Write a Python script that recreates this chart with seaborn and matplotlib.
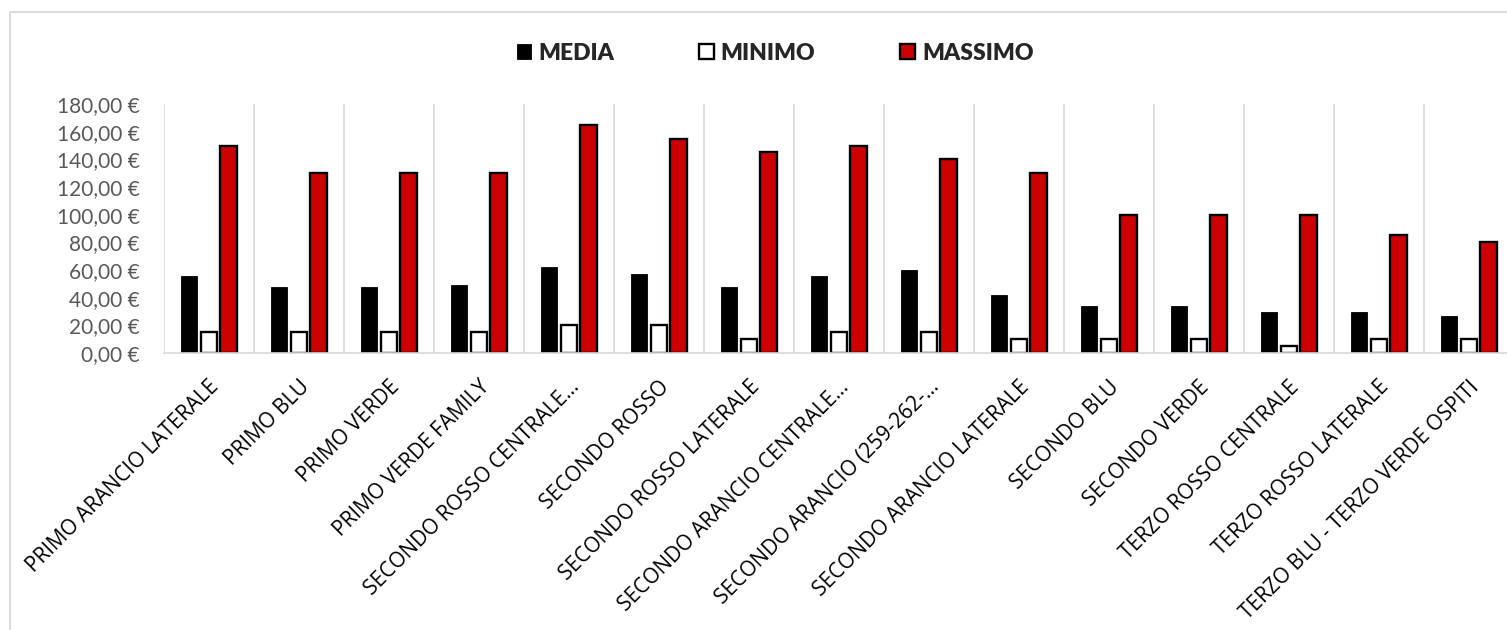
import matplotlib
matplotlib.use("Agg")
import matplotlib.pyplot as plt
from matplotlib.patches import Rectangle, Patch
from matplotlib.font_manager import FontProperties
from matplotlib.ticker import FuncFormatter, MultipleLocator
import seaborn as sns
import pandas as pd

# Sectors and ticket prices (EUR)
categories = [
    "PRIMO ARANCIO LATERALE",
    "PRIMO BLU",
    "PRIMO VERDE",
    "PRIMO VERDE FAMILY",
    "SECONDO ROSSO CENTRALE…",
    "SECONDO ROSSO",
    "SECONDO ROSSO LATERALE",
    "SECONDO ARANCIO CENTRALE…",
    "SECONDO ARANCIO (259-262-…",
    "SECONDO ARANCIO LATERALE",
    "SECONDO BLU",
    "SECONDO VERDE",
    "TERZO ROSSO CENTRALE",
    "TERZO ROSSO LATERALE",
    "TERZO BLU - TERZO VERDE OSPITI",
]
media = [56, 48, 48, 49, 62, 57, 48, 56, 60, 42, 34, 34, 30, 30, 27]
minimo = [15, 15, 15, 15, 20, 20, 10, 15, 15, 10, 10, 10, 5, 10, 10]
massimo = [150, 130, 130, 130, 165, 155, 145, 150, 140, 130, 100, 100, 100, 85, 80]

series_names = ["MEDIA", "MINIMO", "MASSIMO"]
fill_colors = ["#000000", "#FFFFFF", "#CC0000"]

df = pd.DataFrame({"settore": categories, "MEDIA": media, "MINIMO": minimo, "MASSIMO": massimo})
long_df = df.melt(id_vars="settore", value_vars=series_names, var_name="serie", value_name="prezzo")

sns.set_theme(style="white")

fig = plt.figure(figsize=(15.07, 6.30), dpi=100)
ax = fig.add_axes([163.7 / 1507, 1 - 353 / 630, 1350 / 1507, (353 - 104) / 630])

sns.barplot(
    data=long_df, x="settore", y="prezzo", hue="serie",
    order=categories, hue_order=series_names,
    palette=fill_colors, width=0.66, gap=0.19,
    saturation=1, legend=False, ax=ax,
)

# Outline styling per series
for cont, name in zip(ax.containers, series_names):
    for bar in cont:
        bar.set_edgecolor("#000000")
        bar.set_linewidth(0.6 if name == "MEDIA" else 1.7)

ax.set_xlim(-0.5, len(categories) - 0.5)
ax.set_ylim(0, 180)
ax.yaxis.set_major_locator(MultipleLocator(20))
ax.yaxis.set_major_formatter(FuncFormatter(lambda v, _: f"{v:.2f}".replace(".", ",") + " €"))

# Vertical separators between sectors
for b in range(len(categories) + 1):
    ax.axvline(b - 0.5, color="#D9D9D9", lw=1.2, zorder=0)

for side in ["top", "right", "left"]:
    ax.spines[side].set_visible(False)
ax.spines["bottom"].set_color("#D9D9D9")
ax.spines["bottom"].set_linewidth(1.2)

ax.set_xlabel("")
ax.set_ylabel("")
ax.tick_params(axis="y", length=0, pad=17, labelsize=15, labelcolor="#595959")
ax.tick_params(axis="x", length=0, pad=17)
for lab in ax.get_yticklabels():
    lab.set_fontfamily(["Lato", "DejaVu Sans"])

x_font = FontProperties(family="Open Sans", size=15)
ax.set_xticks(range(len(categories)))
ax.set_xticklabels(categories, rotation=45, ha="right", va="top",
                   rotation_mode="anchor", color="#000000")
for lab in ax.get_xticklabels():
    lab.set_fontproperties(x_font)

handles = [Patch(facecolor=c, edgecolor="#000000", linewidth=1.7 if i else 0.6)
           for i, c in enumerate(fill_colors)]
fig.legend(handles, series_names, loc="center", bbox_to_anchor=(775 / 1507, 1 - 53 / 630),
           ncol=3, frameon=False, handlelength=0.65, handleheight=0.65,
           handletextpad=0.3, columnspacing=3.7,
           prop={"family": "Lato", "weight": "heavy", "size": 16.5})

# Chart area border
fig.add_artist(Rectangle((9.5 / 1507, -0.1), 1.1, 1.1 - 12.5 / 630,
                         transform=fig.transFigure, fill=False,
                         edgecolor="#D9D9D9", lw=1.4))

fig.savefig("out.png", dpi=100)
